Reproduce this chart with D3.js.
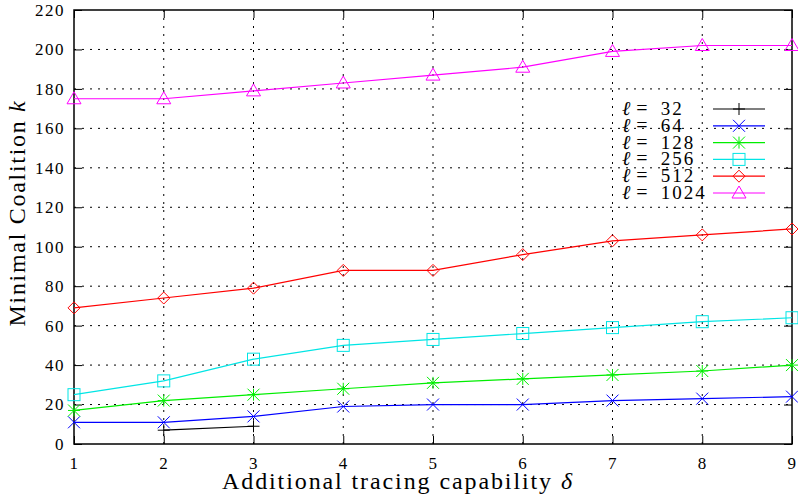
<!DOCTYPE html>
<html>
<head>
<meta charset="utf-8">
<script src="https://cdn.jsdelivr.net/npm/d3@7"></script>
<style>
  body { margin: 0; background: #fff; }
  text { font-family: "Liberation Serif", "DejaVu Serif", serif; fill: #000; }
</style>
</head>
<body>
<script>
var deltas = [1, 2, 3, 4, 5, 6, 7, 8, 9];
var labels = ["32", "64", "128", "256", "512", "1024"];
var colors = ["#000000", "#0000ff", "#00ee00", "#00e5e5", "#ff0000", "#ff00ff"];
var shapes = ["plus", "cross", "star", "square", "diamond", "triangle"];

var l32 = [null, 7, 9, null, null, null, null, null, null];
var l64 = [11, 11, 14, 19, 20, 20, 22, 23, 24];
var l128 = [17, 22, 25, 28, 31, 33, 35, 37, 40];
var l256 = [25, 32, 43, 50, 53, 56, 59, 62, 64];
var l512 = [69, 74, 79, 88, 88, 96, 103, 106, 109];
var l1024 = [175, 175, 179, 183, 187, 191, 199, 202, 202];
var seriesVals = [l32, l64, l128, l256, l512, l1024];

var yTicks = d3.range(0, 221, 20);

var W = 798, H = 499;
var mLeft = 74, mRight = 792, mTop = 10, mBottom = 444;

var svg = d3.select("body").append("svg")
  .attr("width", W)
  .attr("height", H);

var x = d3.scaleLinear().domain([1, 9]).range([mLeft, mRight]);
var y = d3.scaleLinear().domain([0, 220]).range([mBottom, mTop]);

// grid
svg.append("g").selectAll("line")
  .data(deltas.slice(1, -1))
  .enter().append("line")
  .attr("x1", function (d) { return x(d); })
  .attr("x2", function (d) { return x(d); })
  .attr("y1", mTop)
  .attr("y2", mBottom)
  .attr("stroke", "#000")
  .attr("stroke-width", 1)
  .attr("stroke-dasharray", "2,6");

svg.append("g").selectAll("line")
  .data(yTicks.slice(1, -1))
  .enter().append("line")
  .attr("x1", mLeft)
  .attr("x2", mRight)
  .attr("y1", function (d) { return y(d); })
  .attr("y2", function (d) { return y(d); })
  .attr("stroke", "#000")
  .attr("stroke-width", 1)
  .attr("stroke-dasharray", "2,6");

// axes
var gx = svg.append("g")
  .attr("transform", "translate(0," + mBottom + ")")
  .call(d3.axisBottom(x).tickValues(deltas).tickFormat(d3.format("d")).tickSizeInner(-8).tickSizeOuter(0).tickPadding(13));
var gy = svg.append("g")
  .attr("transform", "translate(" + mLeft + ",0)")
  .call(d3.axisLeft(y).tickValues(yTicks).tickSizeInner(-8).tickSizeOuter(0).tickPadding(9));
var gx2 = svg.append("g")
  .attr("transform", "translate(0," + mTop + ")")
  .call(d3.axisTop(x).tickValues(deltas).tickFormat("").tickSizeInner(-8).tickSizeOuter(0));
var gy2 = svg.append("g")
  .attr("transform", "translate(" + mRight + ",0)")
  .call(d3.axisRight(y).tickValues(yTicks).tickFormat("").tickSizeInner(-8).tickSizeOuter(0));

[gx, gy, gx2, gy2].forEach(function (g) {
  g.select(".domain").remove();
  g.attr("font-size", 17).attr("font-family", "Liberation Serif, serif");
  g.selectAll("line").attr("stroke", "#000").attr("stroke-width", 1);
  g.selectAll("text").attr("fill", "#000").attr("letter-spacing", 1.5);
});

svg.append("rect")
  .attr("x", mLeft).attr("y", mTop)
  .attr("width", mRight - mLeft).attr("height", mBottom - mTop)
  .attr("fill", "none").attr("stroke", "#000").attr("stroke-width", 1.5);

// axis titles
var xt = svg.append("text")
  .attr("x", (mLeft + mRight) / 2 - 35)
  .attr("y", 489)
  .attr("text-anchor", "middle")
  .attr("font-size", 24)
  .attr("letter-spacing", 1.9);
xt.append("tspan").text("Additional tracing capability ");
xt.append("tspan").attr("font-style", "italic").text("δ");

var yt = svg.append("text")
  .attr("transform", "translate(25,213) rotate(-90)")
  .attr("text-anchor", "middle")
  .attr("font-size", 24)
  .attr("letter-spacing", 1.7);
yt.append("tspan").text("Minimal Coalition ");
yt.append("tspan").attr("font-style", "italic").text("k");

// markers
function marker(g, shape, color, cx, cy) {
  var s = 6;
  if (shape === "plus") {
    g.append("path").attr("d", "M" + (cx - s) + "," + cy + "H" + (cx + s) + "M" + cx + "," + (cy - s) + "V" + (cy + s));
  } else if (shape === "cross") {
    g.append("path").attr("d", "M" + (cx - s) + "," + (cy - s) + "L" + (cx + s) + "," + (cy + s) + "M" + (cx - s) + "," + (cy + s) + "L" + (cx + s) + "," + (cy - s));
  } else if (shape === "star") {
    g.append("path").attr("d", "M" + (cx - s) + "," + (cy - s) + "L" + (cx + s) + "," + (cy + s) + "M" + (cx - s) + "," + (cy + s) + "L" + (cx + s) + "," + (cy - s) +
      "M" + (cx - s) + "," + cy + "H" + (cx + s) + "M" + cx + "," + (cy - s) + "V" + (cy + s));
  } else if (shape === "square") {
    g.append("rect").attr("x", cx - s).attr("y", cy - s).attr("width", 2 * s).attr("height", 2 * s);
  } else if (shape === "diamond") {
    g.append("path").attr("d", "M" + cx + "," + (cy - s) + "L" + (cx + s) + "," + cy + "L" + cx + "," + (cy + s) + "L" + (cx - s) + "," + cy + "Z");
  } else if (shape === "triangle") {
    g.append("path").attr("d", "M" + cx + "," + (cy - s - 1) + "L" + (cx + s + 1) + "," + (cy + s - 1) + "L" + (cx - s - 1) + "," + (cy + s - 1) + "Z");
  }
  g.selectAll("*").attr("fill", "none").attr("stroke", color).attr("stroke-width", 1);
}

var line = d3.line()
  .defined(function (d) { return d[1] !== null; })
  .x(function (d) { return x(d[0]); })
  .y(function (d) { return y(d[1]); });

seriesVals.forEach(function (vals, i) {
  var pts = deltas.map(function (d, j) { return [d, vals[j]]; });
  var g = svg.append("g");
  g.append("path")
    .attr("d", line(pts))
    .attr("fill", "none")
    .attr("stroke", colors[i])
    .attr("stroke-width", 1.2);
  pts.filter(function (p) { return p[1] !== null; }).forEach(function (p) {
    marker(g.append("g"), shapes[i], colors[i], x(p[0]), y(p[1]));
  });
});

// legend
var legend = svg.append("g");
labels.forEach(function (lab, i) {
  var ly = 109 + i * 16.8;
  var t = legend.append("text")
    .attr("x", 622).attr("y", ly + 6)
    .attr("font-size", 20);
  t.append("tspan").attr("font-style", "italic").text("ℓ");
  t.append("tspan").attr("dx", 6).text("=");
  t.append("tspan").attr("dx", 13).attr("font-size", 19).attr("letter-spacing", 2).text(lab);
  legend.append("line")
    .attr("x1", 713).attr("x2", 765)
    .attr("y1", ly).attr("y2", ly)
    .attr("stroke", colors[i]).attr("stroke-width", 1.2);
  marker(legend.append("g"), shapes[i], colors[i], 739, ly);
});
</script>
</body>
</html>
